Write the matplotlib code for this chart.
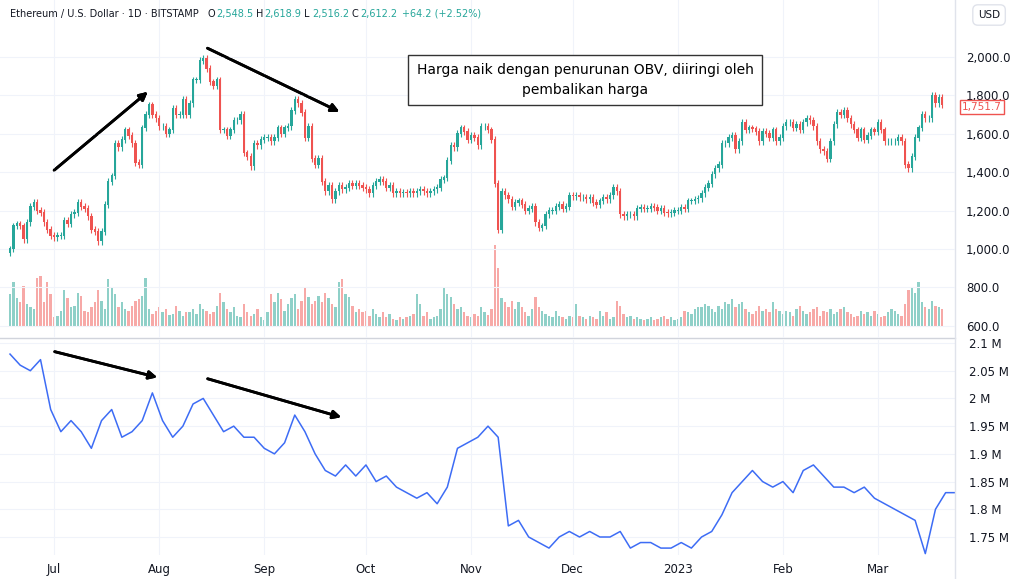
import matplotlib.pyplot as plt
import matplotlib.dates as mdates
import numpy as np
import pandas as pd

# daily closes, Jun 18 2022 -> Mar 20 2023
closes = [
    1000, 1120, 1130, 1120, 1050, 1140, 1220, 1240, 1200, 1190, 1140, 1100, 1070,
    1060, 1070, 1070, 1150, 1130, 1180, 1190, 1240, 1220, 1210, 1170, 1100, 1090, 1040, 1090, 1230,
    1350, 1380, 1550, 1530, 1570, 1620, 1590, 1550, 1450, 1440, 1630, 1700, 1750, 1700, 1680,
    1640, 1640, 1600, 1620, 1730, 1700, 1700, 1780, 1700, 1760, 1880, 1880, 1980, 1990, 1940, 1870,
    1850, 1880, 1620, 1620, 1590, 1620, 1670, 1670, 1700, 1500, 1480, 1430, 1550, 1540, 1570,
    1580, 1580, 1560, 1580, 1630, 1600, 1630, 1640, 1720, 1780, 1760, 1710, 1580, 1640, 1470,
    1440, 1470, 1350, 1300, 1330, 1260, 1300, 1330, 1310, 1320, 1340, 1330, 1340, 1330, 1320,
    1310, 1290, 1330, 1350, 1360, 1350, 1320, 1330, 1290, 1300, 1290, 1295, 1290, 1300, 1290, 1300,
    1310, 1300, 1290, 1300, 1310, 1320, 1360, 1370, 1460, 1540, 1530, 1600, 1630, 1610, 1570,
    1590, 1580, 1540, 1640, 1640, 1620, 1570, 1340, 1100, 1300, 1280, 1260, 1220, 1240, 1250,
    1230, 1200, 1210, 1220, 1140, 1110, 1120, 1180, 1200, 1200, 1220, 1230, 1210, 1220, 1280,
    1275, 1280, 1270, 1270, 1260, 1270, 1240, 1230, 1250, 1270, 1260, 1280, 1320, 1300, 1180, 1170,
    1180, 1180, 1170, 1210, 1215, 1210, 1210, 1220, 1215, 1200, 1210, 1190, 1185, 1190, 1200,
    1200, 1215, 1210, 1250, 1250, 1260, 1265, 1290, 1320, 1340, 1390, 1420, 1440, 1550, 1550, 1580,
    1590, 1520, 1560, 1660, 1620, 1630, 1625, 1610, 1560, 1610, 1600, 1580, 1620, 1560, 1580,
    1640, 1660, 1660, 1630, 1650, 1620, 1660, 1680, 1670, 1640, 1560, 1520, 1510, 1470, 1560, 1650,
    1710, 1700, 1720, 1680, 1650, 1620, 1580, 1620, 1570, 1590, 1620, 1610,
    1660, 1620, 1560, 1560, 1560, 1560, 1580, 1560, 1440, 1420, 1480, 1580, 1630, 1700, 1680, 1680,
    1800, 1760, 1790, 1752,
]
volumes = [
    40, 55, 35, 30, 50, 28, 25, 22, 60, 62, 30, 55, 40,
    12, 14, 20, 45, 35, 25, 26, 42, 38, 20, 18, 24, 30, 45, 32, 22,
    58, 48, 40, 25, 30, 22, 20, 26, 32, 34, 38, 60, 22, 16, 20,
    24, 18, 22, 15, 16, 26, 20, 14, 18, 18, 22, 16, 28, 22, 20, 16,
    18, 26, 42, 30, 22, 18, 24, 14, 12, 28, 18, 14, 16, 22, 12,
    8, 18, 40, 30, 42, 34, 20, 28, 35, 40, 22, 32, 48, 36, 28,
    32, 38, 30, 42, 35, 28, 25, 55, 58, 40, 36, 26, 18, 22, 18,
    20, 14, 22, 16, 12, 18, 12, 16, 10, 8, 12, 10, 12, 14, 16, 40,
    28, 14, 18, 10, 12, 14, 22, 48, 40, 36, 28, 22, 25, 18, 14,
    12, 16, 14, 25, 18, 15, 22, 100, 72, 35, 30, 25, 32, 22, 30,
    25, 18, 14, 22, 36, 25, 20, 16, 14, 12, 20, 14, 12, 10, 14,
    12, 28, 14, 12, 10, 14, 12, 10, 20, 14, 18, 10, 12, 32, 26, 16,
    12, 14, 10, 12, 10, 8, 10, 12, 8, 10, 12, 14, 10, 12, 8,
    10, 12, 20, 18, 16, 22, 25, 24, 28, 26, 22, 18, 26, 22, 30, 28,
    34, 25, 28, 30, 22, 18, 16, 20, 26, 20, 22, 18, 30, 22, 20,
    16, 20, 18, 14, 22, 26, 20, 16, 18, 22, 25, 14, 20, 18, 22, 16,
    18, 22, 25, 18, 16, 12, 14, 20, 16, 18, 14, 20,
    16, 12, 14, 18, 22, 20, 16, 14, 28, 45, 48, 42, 55, 30, 25, 22,
    32, 26, 24, 22,
]
# OBV sampled every 3 days from Jun 18 2022 (millions)
obv = [
    2.08, 2.06, 2.05, 2.07, 1.98, 1.94, 1.96, 1.94, 1.91, 1.96, 1.98, 1.93, 1.94, 1.96, 2.01, 1.96,
    1.93, 1.95, 1.99, 2.00, 1.97, 1.94, 1.95, 1.93, 1.93, 1.91, 1.90, 1.92, 1.97, 1.94, 1.90, 1.87,
    1.86, 1.88, 1.86, 1.88, 1.85, 1.86, 1.84, 1.83, 1.82, 1.83, 1.81, 1.84, 1.91, 1.92, 1.93, 1.95,
    1.93, 1.77, 1.78, 1.75, 1.74, 1.73, 1.75, 1.76, 1.75, 1.76, 1.75, 1.75, 1.76, 1.73, 1.74, 1.74,
    1.73, 1.73, 1.74, 1.73, 1.75, 1.76, 1.79, 1.83, 1.85, 1.87, 1.85, 1.84, 1.85, 1.83, 1.87, 1.88,
    1.86, 1.84, 1.84, 1.83, 1.84, 1.82, 1.81, 1.80, 1.79, 1.78, 1.72, 1.80, 1.83, 1.83, 1.82,
]
opens = [980] + closes[:-1]
month_ticks = ["2022-07-01", "2022-08-01", "2022-09-01", "2022-10-01", "2022-11-01",
               "2022-12-01", "2023-01-01", "2023-02-01", "2023-03-01"]
month_labels = ["Jul", "Aug", "Sep", "Oct", "Nov", "Dec", "2023", "Feb", "Mar"]

UP = "#26a69a"
DOWN = "#ef5350"
W, H = 1024, 579

dates = pd.date_range("2022-06-18", periods=len(closes), freq="D")
obv_dates = pd.date_range("2022-06-18", periods=len(obv), freq="3D")
x = mdates.date2num(dates)
xo = mdates.date2num(obv_dates)
x0 = mdates.date2num(pd.Timestamp("2022-06-18")) - 10 / 3.39
x1 = x0 + 955 / 3.39

fig = plt.figure(figsize=(W / 100, H / 100), dpi=100)
plt.rcParams["font.family"] = "DejaVu Sans"

ax = fig.add_axes([0, 1 - 338 / H, 955 / W, 338 / H])
axv = ax.twinx()
axo = fig.add_axes([0, 1 - 555 / H, 955 / W, 215 / H])

o = np.array(opens); c = np.array(closes)
up = c >= o
cols = np.where(up, UP, DOWN)
hi = np.maximum(o, c) + 18
lo = np.minimum(o, c) - 18
ax.vlines(x, lo, hi, colors=cols, lw=0.8, zorder=3)
ax.bar(x, np.abs(c - o) + 3, bottom=np.minimum(o, c), width=0.7, color=cols, zorder=3)
ax.set_ylim(2000 - (338 - 57) / 0.192, 2000 + 57 / 0.192)

vcols = np.where(up, "#8fd0c8", "#f7a9a7")
axv.bar(x, volumes, width=0.7, color=vcols, zorder=1)
axv.set_ylim(-11 / 0.82, (338 - 11) / 0.82)
axv.set_yticks([])

axo.plot(xo, obv, color="#3d6cf5", lw=1.1)
axo.set_ylim(2.1 - (555 - 343) * 0.0018041, 2.1 + 3 * 0.0018041)

tick_nums = mdates.date2num(pd.to_datetime(month_ticks))
for a in (ax, axv, axo):
    a.set_xlim(x0, x1)
for a in (ax, axo):
    a.set_xticks(tick_nums)
    a.grid(True, color="#f0f3fa", lw=0.8)
    a.set_axisbelow(True)
    a.yaxis.tick_right()
    a.tick_params(length=0, labelsize=8.5, colors="#131722")
    for s in a.spines.values():
        s.set_visible(False)
for s in axv.spines.values():
    s.set_visible(False)
ax.set_zorder(2); ax.patch.set_visible(False); axv.set_zorder(1)
ax.set_xticklabels([])
axo.set_xticklabels(month_labels)
ax.set_yticks([600, 800, 1000, 1200, 1400, 1600, 1800, 2000])
ax.set_yticklabels([f"{v:,.1f}" for v in [600, 800, 1000, 1200, 1400, 1600, 1800, 2000]])
ax.tick_params(axis="y", pad=8)
ovals = [1.75, 1.8, 1.85, 1.9, 1.95, 2.0, 2.05, 2.1]
axo.set_yticks(ovals)
axo.set_yticklabels([f"{v:g} M" for v in ovals])
axo.tick_params(axis="y", pad=10)
axo.tick_params(axis="x", pad=6)

# panel separators
fig.add_artist(plt.Line2D([0, 955 / W], [1 - 338 / H] * 2, color="#d1d4dc", lw=1))
fig.add_artist(plt.Line2D([955 / W] * 2, [0, 1], color="#e0e3eb", lw=1))

def fp(px, py):
    return (px / W, 1 - py / H)

fig.text(*fp(10, 14), "Ethereum / U.S. Dollar · 1D · BITSTAMP", fontsize=7, color="#131722", va="center")
vals = [("O", "2,548.5"), ("H", "2,618.9"), ("L", "2,516.2"), ("C", "2,612.2")]
px = 208
for k, v in vals:
    fig.text(*fp(px, 14), k, fontsize=7, color="#131722", va="center")
    fig.text(*fp(px + 8, 14), v, fontsize=7, color=UP, va="center")
    px += 48
fig.text(*fp(402, 14), "+64.2 (+2.52%)", fontsize=7, color=UP, va="center")
fig.text(*fp(978, 15), "USD", fontsize=7.5, color="#131722", va="center",
         bbox=dict(boxstyle="round,pad=0.5", fc="white", ec="#e0e3eb"))
fig.text(*fp(962, 107), "1,751.7", fontsize=7.5, color=DOWN, va="center",
         bbox=dict(boxstyle="square,pad=0.2", fc="white", ec=DOWN))

fig.text(*fp(585, 80), "Harga naik dengan penurunan OBV, diiringi oleh\npembalikan harga",
         fontsize=10, ha="center", va="center", linespacing=1.5,
         bbox=dict(boxstyle="square,pad=0.6", fc="white", ec="#333333", lw=1))

arrows = [((52, 172), (150, 90)), ((205, 47), (342, 113)),
          ((52, 351), (160, 378)), ((205, 378), (344, 418))]
for (sx, sy), (ex, ey) in arrows:
    fig.add_artist(plt.annotate("", xy=fp(ex, ey), xytext=fp(sx, sy), xycoords="figure fraction",
                                textcoords="figure fraction",
                                arrowprops=dict(arrowstyle="-|>", color="black", lw=2, mutation_scale=12)))

fig.savefig("out.png", dpi=100)
